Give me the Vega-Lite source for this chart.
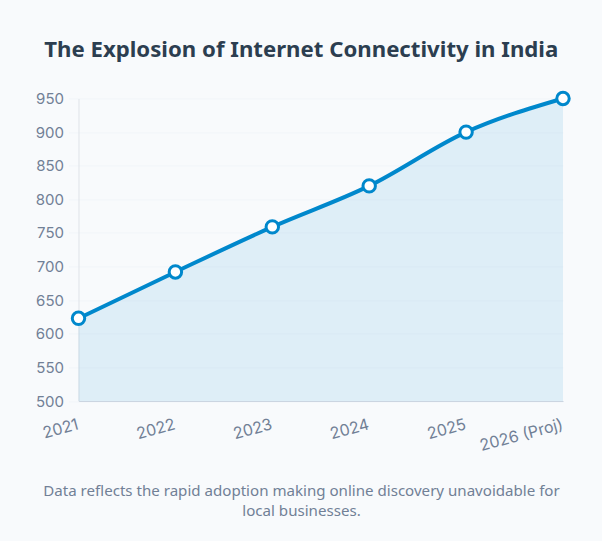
{
  "$schema": "https://vega.github.io/schema/vega-lite/v6.json",
  "autosize": "none",
  "width": 484.5,
  "height": 302.5,
  "padding": {"left": 78.5, "top": 98.5, "right": 39, "bottom": 140},
  "background": "#f8fafc",
  "config": {"view": {"stroke": null}},
  "title": {
    "text": "The Explosion of Internet Connectivity in India",
    "font": "Noto Sans",
    "fontSize": 22.2,
    "fontWeight": 700,
    "color": "#2c3e50",
    "anchor": "middle",
    "dx": -19.5,
    "offset": 25
  },
  "data": {
    "values": [
      {"year": "2021", "users": 623},
      {"year": "2022", "users": 692},
      {"year": "2023", "users": 759},
      {"year": "2024", "users": 820},
      {"year": "2025", "users": 900},
      {"year": "2026 (Proj)", "users": 950}
    ]
  },
  "encoding": {
    "x": {
      "field": "year",
      "type": "ordinal",
      "sort": null,
      "scale": {"type": "point", "padding": 0},
      "axis": {
        "title": ["Data reflects the rapid adoption making online discovery unavoidable for", "local businesses."],
        "titleFont": "Noto Sans",
        "titleFontSize": 15.1,
        "titleFontWeight": 400,
        "titleColor": "#718096",
        "titleLineHeight": 20,
        "titleX": 222.5,
        "titleY": 89,
        "titleAlign": "center",
        "titleBaseline": "middle",
        "labelAngle": -15,
        "labelAlign": "right",
        "labelBaseline": "top",
        "labelFont": "Inter",
        "labelFontSize": 16,
        "labelColor": "#718096",
        "labelPadding": 15,
        "labelOffset": -3,
        "labelOverlap": false,
        "labelBound": false,
        "labelFlush": false,
        "ticks": false,
        "grid": false,
        "domainColor": "#cbd5e1",
        "domainWidth": 1
      }
    },
    "y": {
      "field": "users",
      "type": "quantitative",
      "scale": {"domain": [500, 950], "nice": false},
      "axis": {
        "title": null,
        "values": [500, 550, 600, 650, 700, 750, 800, 850, 900, 950],
        "labelFont": "Inter",
        "labelFontSize": 15,
        "labelColor": "#718096",
        "labelPadding": 5,
        "tickColor": "#f1f5f9",
        "tickSize": 10,
        "gridColor": "#f1f5f9",
        "domainColor": "#dfe3e8",
        "zindex": 0
      }
    }
  },
  "layer": [
    {"mark": {"type": "area", "interpolate": "monotone", "color": "#0088cc", "opacity": 0.1}, "encoding": {"y2": {"datum": 500}}},
    {"mark": {"type": "line", "interpolate": "monotone", "color": "#0088cc", "strokeWidth": 4}},
    {"mark": {"type": "point", "filled": true, "fill": "#ffffff", "stroke": "#0088cc", "strokeWidth": 3, "size": 155, "opacity": 1}}
  ]
}
